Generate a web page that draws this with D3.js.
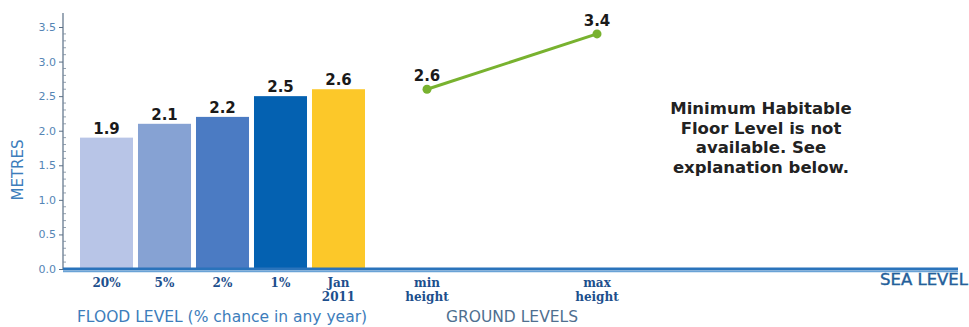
<!DOCTYPE html>
<html>
<head>
<meta charset="utf-8">
<script src="https://cdn.jsdelivr.net/npm/d3@7"></script>
<style>
  body { margin: 0; background: #fff; }
  svg { display: block; }
</style>
</head>
<body>
<div id="chart"></div>
<script>
// flood levels (bars)
const floodLabels = ["20%", "5%", "2%", "1%", "Jan\n2011"];
const floodValues = [1.9, 2.1, 2.2, 2.5, 2.6];
const floodColors = ["#b8c5e7", "#86a2d3", "#4b7bc3", "#0461b1", "#fcc829"];

// ground levels (line)
const groundLabels = ["min\nheight", "max\nheight"];
const groundValues = [2.6, 3.4];

const yTicks = [0, 0.5, 1.0, 1.5, 2.0, 2.5, 3.0, 3.5];
const noteLines = ["Minimum Habitable", "Floor Level is not", "available. See", "explanation below."];

const width = 969;
const height = 327;

const svg = d3.select("#chart")
  .append("svg")
  .attr("width", width)
  .attr("height", height);

const y = d3.scaleLinear().domain([0, 3.5]).range([269, 27]);

const x = d3.scaleBand()
  .domain(floodLabels)
  .range([77.5, 367.5])
  .paddingInner(0.086)
  .paddingOuter(0.043);

const xg = d3.scalePoint()
  .domain(groundLabels)
  .range([427, 597]);

// y axis
const axisX = 63;
const yAxis = svg.append("g")
  .attr("transform", `translate(${axisX},0)`)
  .call(d3.axisLeft(y).tickValues(yTicks).tickFormat(d3.format(".1f")).tickSize(4).tickPadding(3));

yAxis.select(".domain").attr("d", `M0,13V${y(0)}`).attr("stroke", "#5a6f86").attr("stroke-width", 1.2);
yAxis.selectAll(".tick line").attr("stroke", "#5a6f86");
yAxis.selectAll(".tick text")
  .style("font-family", "DejaVu Sans, sans-serif")
  .style("font-size", "11px")
  .attr("fill", "#5585b5");

// minor ticks
svg.append("g")
  .selectAll("line")
  .data(d3.range(1, 36).filter((i) => i % 5 !== 0).map((i) => i / 10))
  .enter()
  .append("line")
  .attr("x1", axisX)
  .attr("x2", axisX + 3)
  .attr("y1", (d) => y(d))
  .attr("y2", (d) => y(d))
  .attr("stroke", "#7a8a9c")
  .attr("stroke-width", 0.8);

// bars
svg.append("g")
  .selectAll("rect")
  .data(floodValues)
  .enter()
  .append("rect")
  .attr("x", (d, i) => x(floodLabels[i]))
  .attr("y", (d) => y(d))
  .attr("width", x.bandwidth())
  .attr("height", (d) => y(0) - y(d))
  .attr("fill", (d, i) => floodColors[i]);

svg.append("g")
  .selectAll("text")
  .data(floodValues)
  .enter()
  .append("text")
  .attr("x", (d, i) => x(floodLabels[i]) + x.bandwidth() / 2)
  .attr("y", (d) => y(d) - 4)
  .attr("text-anchor", "middle")
  .style("font-family", "DejaVu Sans, sans-serif")
  .style("font-weight", "bold")
  .style("font-size", "15px")
  .attr("fill", "#1a1a1a")
  .text((d) => d.toFixed(1));

// ground level line
const line = d3.line()
  .x((d, i) => xg(groundLabels[i]))
  .y((d) => y(d));

svg.append("path")
  .datum(groundValues)
  .attr("d", line)
  .attr("fill", "none")
  .attr("stroke", "#78b22f")
  .attr("stroke-width", 3);

svg.append("g")
  .selectAll("circle")
  .data(groundValues)
  .enter()
  .append("circle")
  .attr("cx", (d, i) => xg(groundLabels[i]))
  .attr("cy", (d) => y(d))
  .attr("r", 4.5)
  .attr("fill", "#78b22f");

svg.append("g")
  .selectAll("text")
  .data(groundValues)
  .enter()
  .append("text")
  .attr("x", (d, i) => xg(groundLabels[i]))
  .attr("y", (d) => y(d) - 8)
  .attr("text-anchor", "middle")
  .style("font-family", "DejaVu Sans, sans-serif")
  .style("font-weight", "bold")
  .style("font-size", "15px")
  .attr("fill", "#1a1a1a")
  .text((d) => d.toFixed(1));

// sea level line
svg.append("line")
  .attr("x1", axisX)
  .attr("x2", 958)
  .attr("y1", y(0))
  .attr("y2", y(0))
  .attr("stroke", "#2a73bb")
  .attr("stroke-width", 3);
svg.append("line")
  .attr("x1", axisX)
  .attr("x2", 958)
  .attr("y1", y(0) + 2.5)
  .attr("y2", y(0) + 2.5)
  .attr("stroke", "#6aa3d6")
  .attr("stroke-width", 1.5);

// category labels
function catLabels(labels, xpos) {
  const t = svg.append("g")
    .selectAll("text")
    .data(labels)
    .enter()
    .append("text")
    .attr("x", (d) => xpos(d))
    .attr("y", 287)
    .attr("text-anchor", "middle")
    .style("font-family", "DejaVu Serif, serif")
    .style("font-weight", "bold")
    .style("font-size", "12px")
    .attr("fill", "#1d4f8d");
  t.selectAll("tspan")
    .data((d) => d.split("\n"))
    .enter()
    .append("tspan")
    .attr("x", function () { return d3.select(this.parentNode).attr("x"); })
    .attr("dy", (d, i) => (i === 0 ? 0 : 14))
    .text((d) => d);
}
catLabels(floodLabels, (d) => x(d) + x.bandwidth() / 2);
catLabels(groundLabels, (d) => xg(d));

// axis titles
const titleStyle = (sel) => sel
  .style("font-family", "DejaVu Sans, sans-serif")
  .style("font-size", "15.5px")
  .attr("fill", "#3d7dbb");

svg.append("text")
  .attr("x", 222)
  .attr("y", 322)
  .attr("text-anchor", "middle")
  .call(titleStyle)
  .text("FLOOD LEVEL (% chance in any year)");

svg.append("text")
  .attr("x", 512)
  .attr("y", 322)
  .attr("text-anchor", "middle")
  .call(titleStyle)
  .attr("fill", "#4f6f8f")
  .text("GROUND LEVELS");

svg.append("text")
  .attr("x", 968)
  .attr("y", 285)
  .attr("text-anchor", "end")
  .style("font-family", "DejaVu Sans, sans-serif")
  .style("font-size", "16.5px")
  .attr("fill", "#245f9a")
  .attr("stroke", "#245f9a")
  .attr("stroke-width", 0.4)
  .text("SEA LEVEL");

svg.append("text")
  .attr("transform", "translate(23,170) rotate(-90)")
  .attr("text-anchor", "middle")
  .call(titleStyle)
  .style("font-size", "15px")
  .text("METRES");

// note
svg.append("g")
  .selectAll("text")
  .data(noteLines)
  .enter()
  .append("text")
  .attr("x", 761)
  .attr("y", (d, i) => 114 + i * 19.5)
  .attr("text-anchor", "middle")
  .style("font-family", "DejaVu Sans, sans-serif")
  .style("font-weight", "bold")
  .style("font-size", "16.5px")
  .attr("fill", "#222")
  .text((d) => d);
</script>
</body>
</html>
